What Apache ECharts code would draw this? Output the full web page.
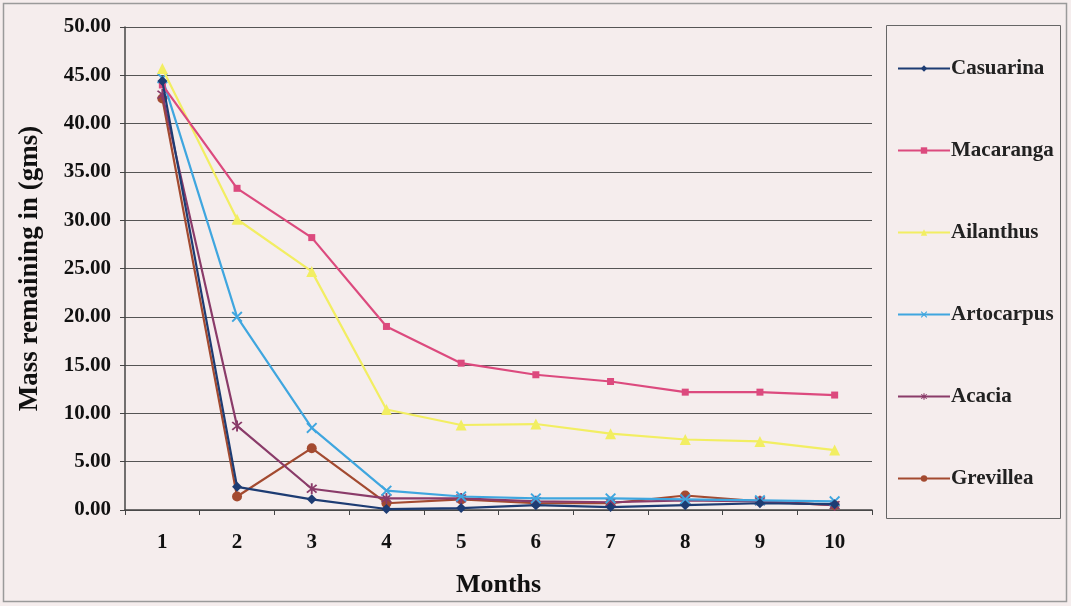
<!DOCTYPE html>
<html>
<head>
<meta charset="utf-8">
<script src="https://cdn.jsdelivr.net/npm/echarts@6/dist/echarts.min.js"></script>
<style>
html,body{margin:0;padding:0;background:#fff;}
#chart{width:1071px;height:606px;}
</style>
</head>
<body>
<div id="chart"></div>
<script>
var months = ['1','2','3','4','5','6','7','8','9','10'];
var casuarina  = [44.4, 2.4, 1.1, 0.1, 0.2, 0.5, 0.3, 0.5, 0.7, 0.6];
var macaranga  = [44.0, 33.3, 28.2, 19.0, 15.2, 14.0, 13.3, 12.2, 12.2, 11.9];
var ailanthus  = [45.7, 30.1, 24.7, 10.4, 8.8, 8.9, 7.9, 7.3, 7.1, 6.2];
var artocarpus = [44.7, 20.0, 8.5, 2.0, 1.4, 1.2, 1.2, 1.1, 1.0, 0.9];
var acacia     = [43.0, 8.7, 2.2, 1.2, 1.2, 0.9, 0.8, 1.0, 0.9, 0.5];
var grevillea  = [42.6, 1.4, 6.4, 0.7, 1.1, 0.7, 0.7, 1.5, 0.9, 0.5];
var seriesNames = ['Casuarina','Macaranga','Ailanthus','Artocarpus','Acacia','Grevillea'];

function starPath(angles, L, w) {
  var pts = [];
  var n = angles.length;
  for (var i = 0; i < n; i++) {
    var a = angles[i] * Math.PI / 180;
    var ca = Math.cos(a), sa = Math.sin(a);
    var px = -sa, py = ca;
    pts.push([L*ca - w*px, L*sa - w*py]);
    pts.push([L*ca + w*px, L*sa + w*py]);
    var b = angles[(i+1)%n] * Math.PI / 180;
    if (i === n-1) b += 2*Math.PI;
    var m = (a + b) / 2;
    var r = w / Math.sin((b - a) / 2);
    pts.push([r*Math.cos(m), r*Math.sin(m)]);
  }
  return 'path://M' + pts.map(function(p){return (p[0]+10).toFixed(2)+','+(p[1]+10).toFixed(2);}).join('L') + 'Z';
}
var xSym = starPath([45,135,225,315], 10, 1.4);
var astSym = starPath([45,90,135,225,270,315], 10, 1.4);

var colors = ['#1d3c73','#dc4a7e','#f2ee62','#3fa6df','#8a3b69','#a34a30'];
var symbols = ['diamond','rect','triangle',xSym,astSym,'circle'];
var sizes = [10,7,11,11,11,10];
var dataArr = [casuarina, macaranga, ailanthus, artocarpus, acacia, grevillea];

var font = '"Liberation Serif", "Times New Roman", serif';

var chart = echarts.init(document.getElementById('chart'), null, {renderer:'canvas'});
var series = seriesNames.map(function(n, i){
  return {
    name: n, type: 'line', data: dataArr[i],
    symbol: symbols[i], symbolSize: sizes[i], showAllSymbol: true,
    lineStyle: {color: colors[i], width: 2.2},
    itemStyle: {color: colors[i]},
    z: 10 - i
  };
});

chart.setOption({
  backgroundColor: '#f5eded',
  animation: false,
  graphic: [
    {type:'rect', shape:{x:3.5,y:3.5,width:1063,height:598}, style:{fill:'none', stroke:'#9a9a9a', lineWidth:1.5}, z:-1},
    {type:'rect', shape:{x:886.5,y:25.5,width:174,height:493}, style:{fill:'none', stroke:'#666', lineWidth:1}, z:-1}
  ],
  grid: {left:125, right:199, top:27, bottom:96, show:false},
  legend: {
    orient:'vertical', left:892, top:53,
    itemWidth:52, itemHeight:8, itemGap:61,
    textStyle:{fontFamily:font, fontWeight:'bold', fontSize:21, color:'#222', lineHeight:20, padding:[0,0,0,-4]},
    data: seriesNames
  },
  xAxis: {
    type:'category', data: months, boundaryGap:true,
    name:'Months', nameLocation:'middle', nameGap:62,
    nameTextStyle:{fontFamily:font, fontWeight:'bold', fontSize:26, color:'#111'},
    axisLine:{lineStyle:{color:'#444', width:1.5}},
    axisTick:{show:true, alignWithLabel:false, length:5, lineStyle:{color:'#444'}},
    axisLabel:{fontFamily:font, fontWeight:'bold', fontSize:21, color:'#111', margin:22},
    splitLine:{show:false}
  },
  yAxis: {
    type:'value', min:0, max:50, interval:5,
    name:'Mass remaining in (gms)', nameLocation:'middle', nameGap:81, nameRotate:90,
    nameTextStyle:{fontFamily:font, fontWeight:'bold', fontSize:27, color:'#111'},
    axisLine:{show:true, lineStyle:{color:'#444', width:1.5}},
    axisTick:{show:true, length:5, lineStyle:{color:'#444'}},
    axisLabel:{fontFamily:font, fontWeight:'bold', fontSize:21, color:'#111', margin:14,
      formatter:function(v){return v.toFixed(2);}},
    splitLine:{show:true, lineStyle:{color:'#555', width:1.2}}
  },
  series: series
});
</script>
</body>
</html>
